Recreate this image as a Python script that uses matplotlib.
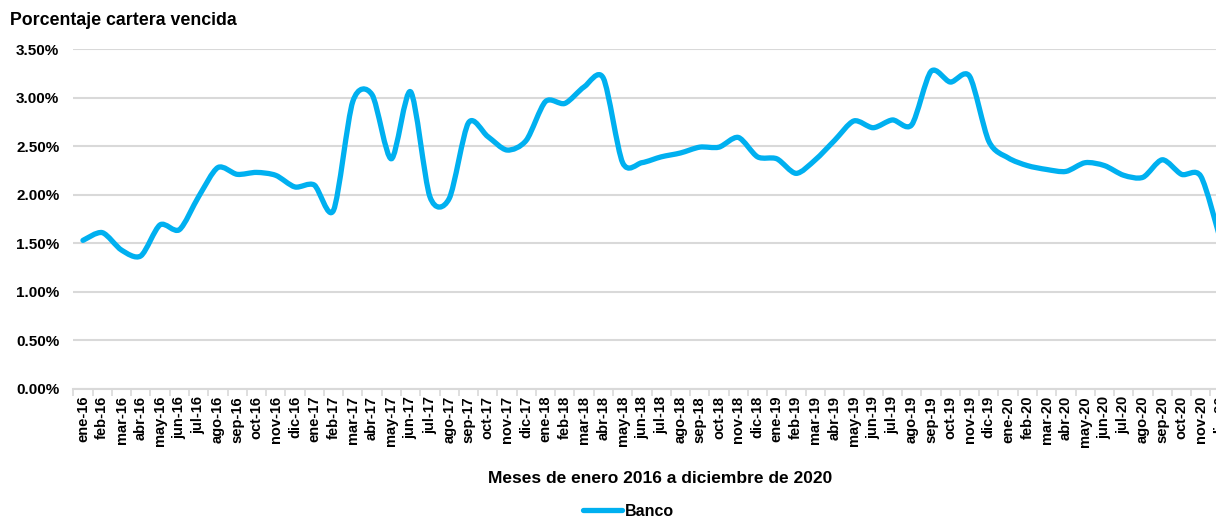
import numpy as np
import matplotlib
matplotlib.use('Agg')
import matplotlib.pyplot as plt
from matplotlib.path import Path
from matplotlib.patches import PathPatch
from matplotlib.lines import Line2D
from matplotlib.ticker import FuncFormatter

# datos: porcentaje cartera vencida, ene-2016 a dic-2020
meses = ['ene', 'feb', 'mar', 'abr', 'may', 'jun',
         'jul', 'ago', 'sep', 'oct', 'nov', 'dic']
anios = ['16', '17', '18', '19', '20']
etiquetas = [m + '-' + a for a in anios for m in meses]

banco = [1.53, 1.61, 1.43, 1.37, 1.69, 1.64, 1.98, 2.28, 2.21, 2.23, 2.20, 2.08,
         2.10, 1.84, 2.96, 3.03, 2.37, 3.06, 1.98, 1.96, 2.74, 2.60, 2.46, 2.56,
         2.96, 2.94, 3.11, 3.20, 2.33, 2.33, 2.39, 2.43, 2.49, 2.49, 2.59, 2.39,
         2.37, 2.22, 2.36, 2.56, 2.76, 2.69, 2.77, 2.72, 3.27, 3.16, 3.22, 2.55,
         2.38, 2.30, 2.26, 2.24, 2.33, 2.30, 2.20, 2.18, 2.36, 2.21, 2.19, 1.55]

azul = '#00B0F0'
gris = '#D9D9D9'

plt.rcParams['font.family'] = ['Liberation Sans', 'DejaVu Sans']
plt.rcParams['font.weight'] = 'bold'

fig = plt.figure(figsize=(12.16, 5.19), dpi=100)
ax = fig.add_axes([0.0603, 0.2505, 0.951, 0.655])

x = np.arange(len(banco), dtype=float)
y = np.array(banco)

# linea suavizada (Bezier tipo Catmull-Rom)
k = 0.14
n = len(x)
verts = [(x[0], y[0])]
codes = [Path.MOVETO]
for i in range(n - 1):
    i0 = max(i - 1, 0)
    i3 = min(i + 2, n - 1)
    c1 = (x[i] + (x[i + 1] - x[i0]) * k, y[i] + (y[i + 1] - y[i0]) * k)
    c2 = (x[i + 1] - (x[i3] - x[i]) * k, y[i + 1] - (y[i3] - y[i]) * k)
    verts += [c1, c2, (x[i + 1], y[i + 1])]
    codes += [Path.CURVE4] * 3
ax.add_patch(PathPatch(Path(verts, codes), facecolor='none', edgecolor=azul,
                       lw=3.8, capstyle='round', joinstyle='round', zorder=3))

ax.set_xlim(-0.5, len(banco) - 0.5)
ax.set_ylim(0, 3.5)
ax.set_yticks(np.arange(0, 3.51, 0.5))
ax.yaxis.set_major_formatter(FuncFormatter(lambda v, p: '%.2f%%' % v))
ax.grid(axis='y', color=gris, lw=1.5, zorder=0)
ax.set_axisbelow(True)

ax.set_xticks(x)
ax.set_xticklabels(etiquetas, rotation=90, fontsize=10.5, fontweight='bold')
ax.set_xticks(np.arange(-0.5, len(banco), 1), minor=True)
ax.tick_params(axis='x', which='major', length=0, pad=5)
ax.tick_params(axis='x', which='minor', length=5, color=gris, width=1.2)
ax.tick_params(axis='y', length=0, labelsize=11, pad=10)
for lab in ax.get_yticklabels():
    lab.set_fontweight('bold')

for s in ['top', 'right', 'left']:
    ax.spines[s].set_visible(False)
ax.spines['bottom'].set_color(gris)
ax.spines['bottom'].set_linewidth(1.5)

ax.set_xlabel('Meses de enero 2016 a diciembre de 2020', fontsize=12.5,
              fontweight='bold', va='center')
ax.xaxis.set_label_coords(0.507, -0.262)
fig.text(0.008, 0.961, 'Porcentaje cartera vencida', fontsize=12.8,
         fontweight='bold', va='center', ha='left')

handle = Line2D([], [], color=azul, lw=3.8, solid_capstyle='round')
fig.legend([handle], ['Banco'], loc='center', bbox_to_anchor=(0.517, 0.015),
           frameon=False, handlelength=2.4, handletextpad=0.2,
           prop={'weight': 'bold', 'size': 11.5})

fig.savefig('out.png', dpi=100)
